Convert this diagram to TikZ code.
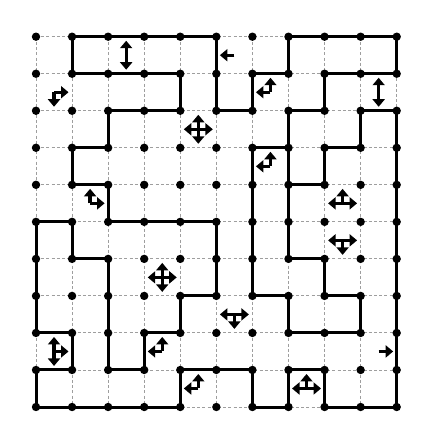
\documentclass[tikz,border=0pt]{standalone}
\usetikzlibrary{arrows.meta}
\begin{document}
\begin{tikzpicture}[x=36.07pt, y=-37.03pt,
  gridline/.style={draw=black!38, line width=0.9pt, dash pattern=on 3pt off 2.2pt},
  wall/.style={line width=3pt, line cap=round},
  dot/.style={circle, fill=black, inner sep=0pt, minimum size=8.4pt},
  arr/.style={line width=3.3pt, -{Triangle[width=12pt,length=7.5pt]}}]
\path[use as bounding box] (-36pt,36.7pt) rectangle (397pt,-408.3pt);
% grid points and cell centres
\foreach \c in {0,...,10}{\foreach \r in {0,...,10}{\coordinate (g\c-\r) at (\c,\r);}}
\foreach \c in {0,...,9}{\foreach \r in {0,...,9}{\coordinate (m\c-\r) at (\c+0.5,\r+0.5);}}
% dashed grid
\foreach \i in {0,...,10}{
  \draw[gridline] (g\i-0) -- (g\i-10);
  \draw[gridline] (g0-\i) -- (g10-\i);
}
% horizontal walls: row/from/to
\foreach \r/\a/\b in {0/1/5, 0/7/10, 1/1/4, 1/6/7, 1/8/10, 2/2/4, 2/5/6, 2/7/8, 2/9/10,
  3/1/2, 3/6/7, 3/8/9, 4/1/2, 4/7/8, 5/0/1, 5/2/5, 6/1/2, 6/7/8, 7/4/5, 7/6/7, 7/8/9,
  8/0/1, 8/3/4, 8/7/9, 9/0/1, 9/2/3, 9/4/6, 9/7/8, 10/0/4, 10/6/7, 10/8/10}
  {\draw[wall] (g\a-\r) -- (g\b-\r);}
% vertical walls: col/from/to
\foreach \c/\a/\b in {0/5/8, 0/9/10, 1/0/1, 1/3/4, 1/5/6, 1/8/9, 2/2/3, 2/4/5, 2/6/9,
  3/8/9, 4/1/2, 4/7/8, 4/9/10, 5/0/2, 5/5/7, 6/1/2, 6/3/7, 6/9/10, 7/0/1, 7/2/6, 7/7/8,
  7/9/10, 8/1/2, 8/3/4, 8/6/7, 8/9/10, 9/2/3, 9/7/8, 10/0/1, 10/2/10}
  {\draw[wall] (g\c-\a) -- (g\c-\b);}
% dots
\foreach \c in {0,...,10}{\foreach \r in {0,...,10}{\node[dot] (d\c-\r) at (g\c-\r) {};}}
% arrows from cell centres
\foreach \c/\r in {2/0, 6/1, 9/1, 4/2, 1/4, 6/3, 8/4, 3/6, 0/8, 3/8, 4/9, 7/9}
  {\draw[arr] (m\c-\r) -- ++(0pt,14.5pt);}
\foreach \c/\r in {2/0, 0/1, 9/1, 4/2, 8/5, 3/6, 5/7, 0/8}
  {\draw[arr] (m\c-\r) -- ++(0pt,-14.5pt);}
\foreach \c/\r in {5/0, 6/1, 4/2, 6/3, 8/4, 8/5, 3/6, 5/7, 3/8, 4/9, 7/9}
  {\draw[arr] (m\c-\r) -- ++(-14.5pt,0pt);}
\foreach \c/\r in {0/1, 4/2, 1/4, 8/4, 8/5, 3/6, 5/7, 0/8, 9/8, 7/9}
  {\draw[arr] (m\c-\r) -- ++(14.5pt,0pt);}
\end{tikzpicture}
\end{document}
